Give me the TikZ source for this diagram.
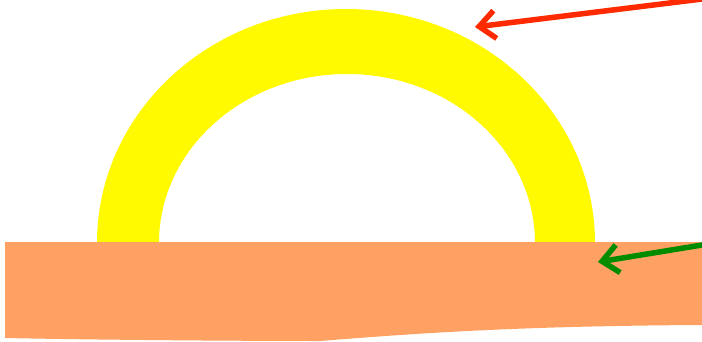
\documentclass[tikz,border=0pt]{standalone}
\usetikzlibrary{arrows.meta}
\definecolor{archyellow}{RGB}{255,250,0}
\definecolor{groundorange}{RGB}{255,161,98}
\definecolor{arrowred}{RGB}{255,42,0}
\definecolor{arrowgreen}{RGB}{0,140,0}
\tikzset{
  pointer/.style={line width=5.5pt, line cap=round, line join=round,
    -{Straight Barb[length=16pt,width=28pt,line width=5.5pt]}},
}
\begin{document}
\begin{tikzpicture}[x=1pt,y=-1pt]
\useasboundingbox (0,0) rectangle (702,341);
% arch
\fill[archyellow] (97,243) arc[start angle=180,end angle=360,x radius=249,y radius=234]
  -- (535,243) arc[start angle=360,end angle=180,x radius=188,y radius=169] -- cycle;
% ground
\fill[groundorange] (5,242) -- (702,242) -- (702,325)
  .. controls (520,326) and (420,333) .. (320,341)
  .. controls (250,341) and (100,340) .. (5,338) -- cycle;
% pointers
\coordinate (redstart) at (702,-1);
\coordinate (redtip) at (475,27);
\coordinate (greenstart) at (702,245);
\coordinate (greentip) at (598,262);
\draw[pointer, arrowred] (redstart) -- (redtip);
\draw[pointer, arrowgreen] (greenstart) -- (greentip);
\end{tikzpicture}
\end{document}
